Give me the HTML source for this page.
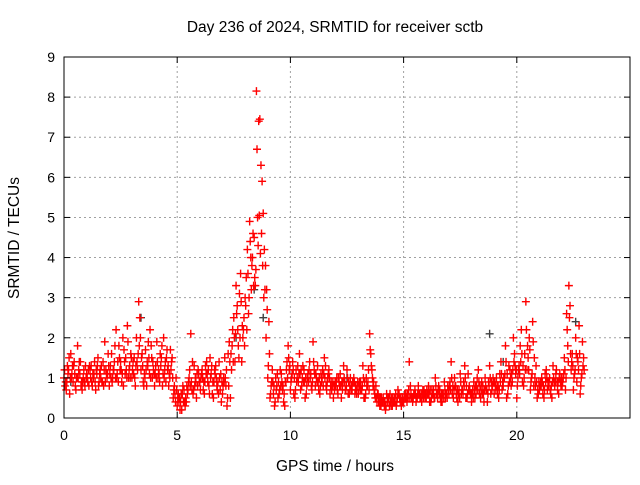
<!DOCTYPE html>
<html><head><meta charset="utf-8"><style>
body{margin:0;background:#fff;}
svg text{font-family:"Liberation Sans",sans-serif;font-size:14px;fill:#000;}
svg text.big{font-size:15.5px;}
</style></head><body>
<svg id="chart" width="640" height="480" xmlns="http://www.w3.org/2000/svg">
<text class="big" x="335" y="32" text-anchor="middle">Day 236 of 2024, SRMTID for receiver sctb</text>
<g id="grid"></g>
<g id="marks"></g>
<rect x="64" y="57" width="566" height="361" fill="none" stroke="#000" stroke-width="1"/>
<g id="axes"></g>
<text class="big" x="335" y="471" text-anchor="middle">GPS time / hours</text>
<text class="big" transform="translate(19,238) rotate(-90)" text-anchor="middle">SRMTID / TECUs</text>
</svg>
<script>
const xTicks=[0,5,10,15,20];
const yTicks=[0,1,2,3,4,5,6,7,8,9];
const layerA=[
1.0,0.7,1.2,1.6,0.9,0.8,1.8,1.1,0.7,0.9, 1.1,0.8,1.3,1.0,0.7,1.5,1.2,0.9,1.9,1.0,
0.8,1.6,1.2,2.2,0.9,1.4,2.0,1.1,2.3,1.3, 1.0,1.5,2.0,2.9,1.2,0.9,1.7,1.3,2.2,1.0,
0.8,1.9,1.1,1.5,2.0,0.9,1.3,1.7,1.0,0.6, 0.3,0.5,0.2,0.7,0.4,0.9,2.1,0.6,1.0,0.8,
0.9,1.2,0.6,1.4,0.8,1.1,0.5,1.3,0.9,0.7, 0.6,1.5,0.3,1.9,1.2,2.5,3.3,1.8,3.6,2.0,
3.0,4.2,4.9,3.8,4.5,8.15,7.4,6.3,5.1,3.8, 1.0,0.5,1.2,0.3,0.8,0.6,1.1,0.4,0.9,1.8,
0.7,1.4,0.5,1.0,1.6,0.8,1.2,0.6,0.9,1.1, 1.9,0.8,1.3,0.6,1.0,1.5,0.7,1.2,0.9,0.5,
0.8,0.6,1.1,0.7,0.9,1.2,0.6,0.8,1.0,0.7, 0.6,0.9,1.3,0.5,0.8,2.1,1.2,0.7,0.5,0.4,
0.3,0.5,0.2,0.4,0.6,0.3,0.5,0.4,0.6,0.3, 0.4,0.6,0.5,0.8,0.4,0.7,0.5,0.6,0.4,0.7,
0.5,0.8,0.4,0.6,1.0,0.5,0.7,0.4,0.9,0.6, 0.6,1.4,0.5,0.8,0.4,1.1,0.7,1.3,0.5,0.8,
0.4,0.9,0.6,1.2,0.5,0.8,1.0,0.4,1.3,0.7, 0.6,1.0,0.5,1.4,0.8,1.8,0.6,1.2,0.9,1.6,
0.5,1.3,2.2,0.8,2.9,1.5,0.7,2.4,1.0,0.5, 0.7,1.0,0.5,1.2,0.8,0.6,1.3,0.9,0.7,1.1,
0.8,1.5,2.6,3.3,1.2,0.7,2.0,1.4,0.6,1.9];
const layerB=[
0.8,1.3,0.6,1.1,1.4,1.0,1.2,0.8,1.0,1.3, 0.9,1.2,0.8,1.4,1.1,0.9,1.3,0.8,1.2,1.6,
1.3,1.0,1.8,1.1,1.5,0.9,1.7,1.2,1.0,1.6, 1.4,0.8,1.2,2.5,1.6,1.1,0.8,1.5,1.8,1.2,
1.3,1.0,1.6,0.8,1.2,1.7,1.1,1.4,0.7,1.0, 0.6,0.4,0.8,0.3,0.6,1.2,0.7,1.3,0.5,1.1,
1.0,0.7,1.3,0.9,1.5,0.6,1.2,0.8,1.4,0.4, 1.0,0.8,1.6,0.5,2.2,1.4,2.8,3.1,1.4,2.5,
3.5,2.6,4.0,4.6,3.3,5.0,7.45,5.9,4.2,3.2, 2.4,0.8,0.6,1.0,0.5,1.2,0.7,0.3,1.4,1.2,
1.0,0.6,1.2,0.9,0.7,1.3,0.5,1.0,1.4,0.7, 1.2,1.0,0.7,1.1,0.8,1.3,1.0,0.6,0.8,0.7,
1.0,0.9,0.5,1.3,0.7,0.6,1.0,0.9,0.6,0.8, 0.9,0.7,0.5,1.0,1.2,1.6,0.8,0.5,0.6,0.3,
0.4,0.3,0.6,0.5,0.3,0.4,0.6,0.7,0.4,0.5, 0.6,0.4,1.4,0.5,0.6,0.4,0.8,0.5,0.7,0.5,
0.6,0.4,0.7,0.5,0.6,0.8,0.4,0.6,0.5,0.8, 0.9,0.6,1.0,0.5,0.7,0.6,0.9,0.5,1.1,0.6,
0.7,0.5,1.0,0.6,0.9,0.4,0.7,0.9,0.6,1.0, 0.8,0.6,1.1,0.7,1.0,0.5,1.3,0.8,2.0,1.1,
1.0,1.8,0.9,1.6,1.2,2.0,1.0,0.8,1.3,0.6, 0.9,0.6,1.1,0.7,1.0,0.5,0.9,1.2,0.6,0.8,
1.0,0.7,1.8,2.8,1.6,1.1,0.9,2.3,1.0,1.5];
const layerC=[
1.2,0.9,1.5,1.0,1.3,0.7,1.0,1.4,0.9,0.8, 1.0,1.3,0.9,1.1,1.2,0.8,1.0,1.4,0.9,1.1,
1.1,0.9,1.4,1.0,1.8,1.2,0.8,1.5,1.9,1.0, 1.2,1.0,1.4,1.8,1.5,0.8,1.2,1.9,1.0,1.4,
1.1,1.4,0.9,1.8,1.0,1.5,0.8,1.2,0.5,0.4, 0.5,0.2,0.6,0.4,0.8,1.0,0.9,0.7,0.9,1.2,
0.7,1.0,0.9,1.1,0.6,1.3,0.9,1.0,0.6,1.1, 0.8,1.0,0.5,1.4,1.8,2.0,2.6,1.5,2.9,2.2,
2.8,3.6,4.4,4.0,3.5,6.7,5.05,4.6,3.0,2.0, 1.3,0.6,0.9,0.4,1.1,0.7,0.9,0.6,1.2,1.5,
0.9,1.2,0.7,1.3,1.1,1.0,0.9,0.8,1.2,0.8, 1.4,1.1,0.9,0.8,1.2,1.0,0.9,1.0,0.7,0.8,
0.9,1.0,0.8,0.9,0.7,1.0,0.8,0.7,0.9,0.6, 0.8,0.7,1.0,0.6,0.9,1.7,1.0,0.6,0.4,0.5,
0.5,0.4,0.3,0.5,0.4,0.5,0.4,0.5,0.5,0.4, 0.5,0.5,0.7,0.6,0.5,0.6,0.6,0.5,0.6,0.6,
0.7,0.6,0.5,0.7,0.8,0.7,0.5,0.6,0.7,0.5, 0.8,1.0,0.7,0.6,0.6,0.9,0.6,1.0,0.6,0.7,
0.6,0.7,0.8,0.9,0.7,0.6,0.8,0.6,1.0,0.8, 0.9,0.8,0.7,1.1,1.0,1.4,0.8,1.0,1.2,1.3,
0.8,1.1,1.6,1.0,2.2,1.2,0.9,1.9,0.8,0.7, 0.8,0.9,0.7,1.0,0.9,0.8,1.0,1.1,0.9,0.9,
0.9,1.2,2.2,2.5,1.4,1.0,1.6,1.2,0.8,1.3];
const layerD=[
0.9,1.1,1.0,1.3,1.1,1.0,1.4,0.9,1.2,1.0, 1.2,1.0,1.1,0.9,1.3,1.1,0.9,1.2,1.1,1.3,
1.0,1.2,1.0,1.4,1.2,1.1,1.4,1.0,1.2,1.5, 1.1,1.3,1.6,2.0,1.3,1.0,1.4,1.1,1.5,1.1,
1.0,1.2,1.3,1.1,1.4,1.2,1.0,1.5,0.8,0.7, 0.4,0.6,0.4,0.5,0.7,0.8,1.4,0.8,1.1,0.9,
1.1,0.9,1.1,1.2,1.0,0.9,1.1,0.7,1.0,0.9, 0.9,1.2,0.8,1.6,1.4,2.1,2.2,2.0,2.3,1.8,
2.2,3.0,3.2,3.3,3.7,4.3,4.1,3.8,3.2,2.7, 1.6,0.9,0.8,0.7,0.9,0.8,0.8,0.9,1.0,1.3,
1.1,1.0,0.9,1.1,1.2,0.9,1.0,1.1,1.0,0.9, 1.1,0.9,1.0,0.9,1.1,0.8,1.1,0.8,0.9,0.9,
0.7,0.8,0.9,1.0,0.8,0.9,0.7,0.9,0.8,0.9, 0.7,0.8,0.9,0.8,0.7,1.3,0.9,0.8,0.6,0.5,
0.4,0.4,0.5,0.3,0.5,0.4,0.3,0.6,0.5,0.4, 0.5,0.6,0.5,0.5,0.6,0.5,0.6,0.6,0.5,0.6,
0.6,0.7,0.6,0.5,0.6,0.6,0.6,0.5,0.6,0.7, 0.7,0.8,0.8,0.7,0.5,0.7,0.8,0.8,0.7,0.6,
0.5,0.8,0.7,0.8,0.6,0.7,0.7,0.8,0.9,0.9, 0.7,0.8,0.9,0.9,1.1,1.1,0.9,1.1,1.4,1.2,
1.2,1.4,1.3,1.2,1.8,1.7,1.1,1.5,0.9,0.9, 0.8,0.8,0.9,0.9,0.7,0.9,0.8,0.9,1.0,1.0,
1.1,1.0,1.4,1.6,1.3,1.2,1.5,1.6,1.1,1.2];
const grayTimes=[0.3,3.4,7.6,8.4,8.8,12.5,18.8,19.4,20.1,22.6];
const grayValues=[0.9,2.5,2.0,3.2,2.5,1.0,2.1,1.4,1.2,2.4];
const X0=64,X1=630,Y0=418,Y1=57;
const xs=t=>X0+(t/25)*(X1-X0);
const ys=v=>Y0-(v/9)*(Y0-Y1);
const NS="http://www.w3.org/2000/svg";
const grid=document.getElementById('grid'),axes=document.getElementById('axes'),marks=document.getElementById('marks');
function mk(tag,at,parent){const e=document.createElementNS(NS,tag);for(const k in at)e.setAttribute(k,at[k]);parent.appendChild(e);return e;}
yTicks.forEach(v=>{const y=ys(v);
 if(v>0&&v<9){const g=mk('line',{x1:X0,x2:X1,y1:y,y2:y,stroke:'#a0a0a0','stroke-dasharray':'2,3'},grid);
 
 }
 mk('line',{x1:X0,x2:X0+6,y1:y,y2:y,stroke:'#000'},axes);
 mk('line',{x1:X1,x2:X1-6,y1:y,y2:y,stroke:'#000'},axes);
 const t=mk('text',{x:X0-9,y:y+5,'text-anchor':'end'},axes);t.textContent=v;
 
 });
xTicks.forEach(v=>{const x=xs(v);
 if(v>0){const g=mk('line',{x1:x,x2:x,y1:Y0,y2:Y1,stroke:'#a0a0a0','stroke-dasharray':'2,3'},grid);
 
 }
 mk('line',{x1:x,x2:x,y1:Y0,y2:Y0-6,stroke:'#000'},axes);
 mk('line',{x1:x,x2:x,y1:Y1,y2:Y1+6,stroke:'#000'},axes);
 const t=mk('text',{x:x,y:Y0+22,'text-anchor':'middle'},axes);t.textContent=v;
 
 });
function plus(t,v,col){const x=xs(t),y=ys(v);
 const p=mk('path',{d:`M${x-4} ${y}H${x+4}M${x} ${y-4}V${y+4}`,stroke:col,'stroke-width':1.4,fill:'none'},marks);
 
 }
grayTimes.forEach((t,i)=>plus(t,grayValues[i],'#404040'));
layerA.forEach((v,i)=>plus(i/10,v,'#ff0000'));
layerB.forEach((v,i)=>plus(i/10+0.05,v,'#ff0000'));
layerC.forEach((v,i)=>plus(i/10+0.025,v,'#ff0000'));
layerD.forEach((v,i)=>plus(i/10+0.075,v,'#ff0000'));
</script>
</body></html>
